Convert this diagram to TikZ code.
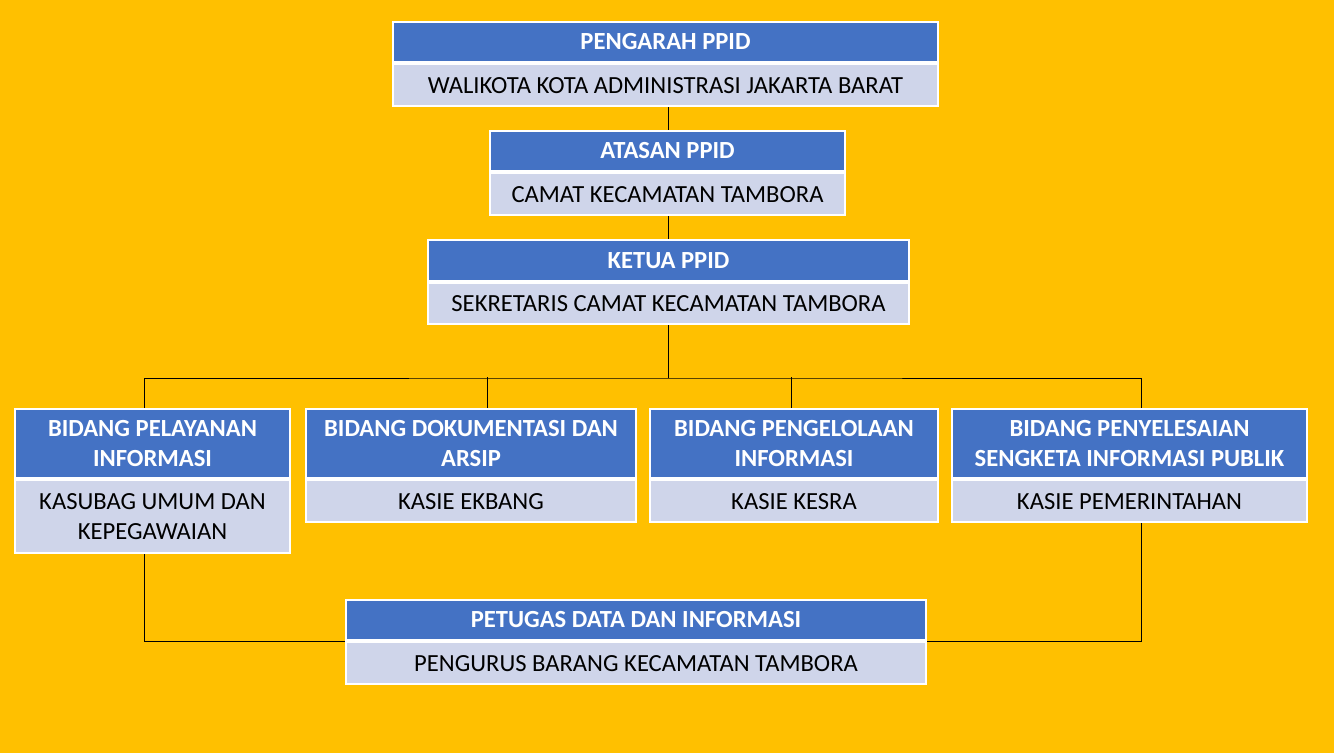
\documentclass[tikz,border=0pt]{standalone}
\usepackage{fontspec}
\setmainfont{Carlito}
\usepackage{xcolor}
\usetikzlibrary{positioning}
\definecolor{hdrblue}{HTML}{4472C4}
\definecolor{bodylav}{HTML}{CFD5EA}
\definecolor{bgyellow}{HTML}{FFC000}
\tikzset{head/.style={
      % The shape:
      rectangle, draw=white, line width=1.5pt,
      % The filling:
      fill=hdrblue,
      % Font
      text=white, font=\fontsize{17.5}{21}\selectfont\bfseries, align=center
    }
}
\tikzset{body/.style={
    rectangle, draw=white, line width=1.5pt,
    fill=bodylav, anchor=north,
    font=\fontsize{17.5}{21}\selectfont, align=center
  }
}
\tikzset{link/.style={draw=black, line width=0.6pt}}

\begin{document}
\begin{tikzpicture}[x=0.025cm,y=-0.025cm]
  \fill[bgyellow] (0,0) rectangle (1334,753);
  \useasboundingbox (0,0) rectangle (1334,753);

  % connectors
  \coordinate (bus) at (668,378);
  \coordinate (spine) at (668,0);

  % top of the chart
  \node (pengH) [head, minimum width=13.625cm, minimum height=1cm] at (665.5,42) {PENGARAH PPID};
  \node (pengB) [body, minimum width=13.625cm, minimum height=1.05cm] at (pengH.south) {WALIKOTA KOTA ADMINISTRASI JAKARTA BARAT};

  \node (atasH) [head, minimum width=8.875cm, minimum height=1cm] at (667.5,151) {ATASAN PPID};
  \node (atasB) [body, minimum width=8.875cm, minimum height=1.05cm] at (atasH.south) {CAMAT KECAMATAN TAMBORA};

  \node (ketuaH) [head, minimum width=12.025cm, minimum height=1.03cm] at (668.5,260.5) {KETUA PPID};
  \node (ketuaB) [body, minimum width=12.025cm, minimum height=1.03cm] at (ketuaH.south) {SEKRETARIS CAMAT KECAMATAN TAMBORA};

  % bidang
  \node (pelH) [head, minimum width=6.875cm, minimum height=1.725cm] at (152.5,443.5) {BIDANG PELAYANAN\\INFORMASI};
  \node (pelB) [body, minimum width=6.875cm, minimum height=1.825cm] at (pelH.south) {KASUBAG UMUM DAN\\KEPEGAWAIAN};

  \node (dokH) [head, minimum width=8.25cm, minimum height=1.725cm] at (471,443.5) {BIDANG DOKUMENTASI DAN\\ARSIP};
  \node (dokB) [body, minimum width=8.25cm, minimum height=1.05cm] at (dokH.south) {KASIE EKBANG};

  \node (kelH) [head, minimum width=7.2cm, minimum height=1.725cm] at (794,443.5) {BIDANG PENGELOLAAN\\INFORMASI};
  \node (kelB) [body, minimum width=7.2cm, minimum height=1.05cm] at (kelH.south) {KASIE KESRA};

  \node (sengH) [head, minimum width=8.875cm, minimum height=1.725cm] at (1129.5,443.5) {BIDANG PENYELESAIAN\\SENGKETA INFORMASI PUBLIK};
  \node (sengB) [body, minimum width=8.875cm, minimum height=1.05cm] at (sengH.south) {KASIE PEMERINTAHAN};

  % petugas
  \node (petH) [head, minimum width=14.5cm, minimum height=1cm] at (636,620) {PETUGAS DATA DAN INFORMASI};
  \node (petB) [body, minimum width=14.5cm, minimum height=1.05cm] at (petH.south) {PENGURUS BARANG KECAMATAN TAMBORA};

  \path[link] (pengB.south -| spine) -- (atasH.north -| spine);
  \path[link] (atasB.south -| spine) -- (ketuaH.north -| spine);
  \path[link] (ketuaB.south -| spine) -- (bus);
  \path[link] ([xshift=-0.19cm]pelH.north) |- (bus) -| ([xshift=0.29cm]sengH.north);
  \path[link] ([xshift=0.4cm]dokH.north) -- ++(0,-31);
  \path[link] ([xshift=-0.075cm]kelH.north) -- ++(0,-31);
  \path[link] ([xshift=-0.19cm]pelB.south) |- (petH.south west);
  \path[link] ([xshift=0.29cm]sengB.south) |- (petH.south east);
\end{tikzpicture}
\end{document}
